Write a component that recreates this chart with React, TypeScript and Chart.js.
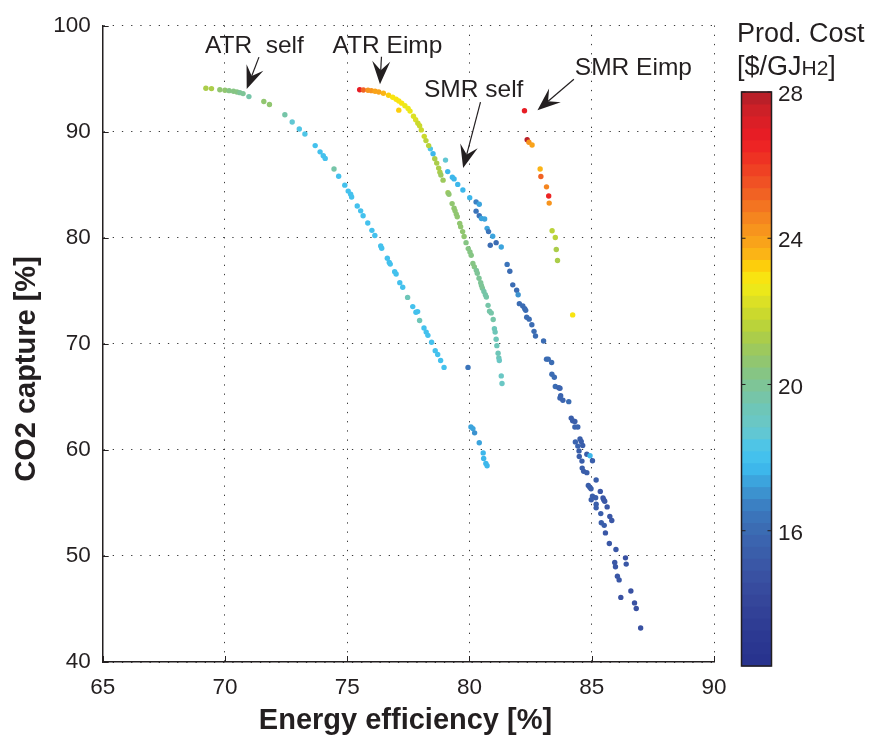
import React, { useEffect, useRef } from 'react';
import { Chart, registerables } from 'chart.js';

Chart.register(...registerables);

const FONT = "'Liberation Sans', Arial, Helvetica, sans-serif";
const TEXT = '#231f20';

// ---------------- data ----------------
const atrSelfX = [69.22, 69.45, 69.79, 70.0, 70.17, 70.35, 70.49, 70.61, 70.74, 70.98, 71.59, 71.82, 72.45, 72.75, 73.04, 73.27, 73.69, 73.89, 74.02, 74.10, 74.46, 74.65, 74.90, 75.04, 75.14, 75.18, 75.41, 75.55, 75.65, 75.84, 76.01, 76.13, 76.37, 76.41, 76.64, 76.72, 76.76, 76.94, 77.0, 77.15, 77.27, 77.47, 77.68, 77.81, 77.88, 77.96, 78.14, 78.23, 78.30, 78.45, 78.60, 78.70, 78.82, 78.96];
const atrSelfY = [94.08, 94.05, 93.95, 93.89, 93.86, 93.80, 93.73, 93.67, 93.58, 93.30, 92.84, 92.56, 91.59, 90.91, 90.25, 89.77, 88.68, 88.09, 87.72, 87.47, 86.47, 85.79, 84.95, 84.39, 84.09, 83.83, 82.99, 82.53, 82.06, 81.38, 80.69, 80.20, 79.21, 79.0, 78.06, 77.66, 77.51, 76.79, 76.57, 75.76, 75.33, 74.37, 73.50, 72.97, 73.03, 72.19, 71.48, 71.10, 70.79, 70.14, 69.35, 68.98, 68.42, 67.77];
const atrSelfCost = [21.2, 21.2, 20.6, 20.5, 20.4, 20.3, 20.2, 20.1, 20.0, 19.7, 20.8, 20.6, 19.6, 18.6, 18.4, 18.2, 18.1, 18.1, 18.1, 18.1, 19.5, 18.1, 18.1, 18.1, 18.1, 18.1, 18.1, 18.1, 18.1, 18.1, 18.1, 18.1, 18.1, 18.1, 18.1, 18.1, 18.1, 18.1, 18.1, 18.1, 18.1, 19.4, 18.1, 18.1, 18.1, 19.4, 18.1, 18.1, 18.1, 18.1, 18.1, 18.1, 18.1, 18.1];

const atrEimpX = [75.51, 75.66, 75.85, 75.99, 76.14, 76.29, 76.48, 76.69, 76.86, 77.0, 77.11, 77.11, 77.23, 77.36, 77.49, 77.57, 77.71, 77.80, 77.89, 77.96, 78.03, 78.15, 78.22, 78.33, 78.58, 78.66, 78.74, 78.79, 78.83, 78.92, 79.12, 79.16, 79.29, 79.37, 79.41, 79.46, 79.50, 79.60, 79.64, 79.72, 79.78, 79.86, 79.95, 80.02, 80.07, 80.14, 80.20, 80.28, 80.32, 80.39, 80.46, 80.49, 80.53, 80.59, 80.65, 80.69, 80.76, 80.82, 80.89, 80.97, 81.02, 81.05, 81.09, 81.12, 81.17, 81.20, 81.22, 81.30, 81.33];
const atrEimpY = [93.95, 93.92, 93.89, 93.86, 93.80, 93.73, 93.61, 93.42, 93.24, 93.05, 92.02, 92.89, 92.68, 92.43, 92.18, 91.93, 91.44, 91.12, 90.79, 90.56, 90.16, 89.55, 89.15, 88.68, 87.44, 87.03, 86.56, 86.16, 85.91, 85.42, 84.23, 84.09, 83.21, 82.78, 82.53, 82.22, 81.97, 81.35, 81.04, 80.57, 80.11, 79.53, 78.97, 78.65, 78.34, 77.57, 77.25, 76.92, 76.64, 76.17, 75.76, 75.48, 75.24, 74.92, 74.62, 74.40, 73.62, 73.06, 72.91, 72.29, 71.42, 71.10, 70.42, 69.82, 69.11, 68.67, 68.42, 66.97, 66.25];
const atrEimpCost = [26.8, 25.3, 24.3, 24.2, 23.9, 23.8, 23.5, 23.2, 23.0, 22.9, 23.4, 22.8, 22.8, 22.7, 22.6, 22.5, 22.3, 22.2, 22.1, 22.0, 21.9, 21.8, 21.7, 21.6, 21.4, 21.3, 21.3, 21.2, 21.1, 21.0, 20.9, 20.8, 20.8, 20.7, 20.7, 20.6, 20.6, 20.6, 20.5, 20.5, 20.5, 20.4, 20.4, 20.3, 20.3, 20.2, 20.2, 20.1, 20.1, 20.0, 20.0, 19.9, 19.9, 19.8, 19.8, 19.7, 19.6, 19.6, 19.5, 19.5, 19.3, 19.3, 19.3, 19.2, 19.2, 19.2, 19.1, 19.0, 19.0];

const smrEimpX = [82.25, 82.36, 82.43, 82.56, 82.89, 82.92, 83.15, 83.24, 83.26, 83.38, 83.51, 83.55, 83.60, 84.22];
const smrEimpY = [91.96, 89.24, 88.99, 88.74, 86.47, 85.76, 84.79, 83.93, 83.26, 80.65, 80.02, 78.88, 77.85, 72.72];
const smrEimpCost = [26.8, 27.9, 24.3, 23.9, 23.6, 25.1, 24.5, 26.6, 24.1, 21.5, 21.5, 21.3, 21.2, 22.9];

const smrSelfX = [78.40, 78.51, 79.02, 79.11, 79.30, 79.37, 79.52, 79.73, 80.01, 80.27, 80.40, 80.27, 80.40, 80.49, 80.62, 80.72, 80.78, 80.95, 81.09, 80.85, 81.30, 81.54, 81.65, 81.77, 81.93, 81.99, 82.04, 82.18, 82.26, 82.30, 82.34, 82.44, 82.55, 82.64, 82.70, 83.03, 79.94, 83.15, 83.22, 83.36, 83.37, 83.47, 83.51, 83.65, 83.70, 83.73, 83.70, 83.82, 84.06, 84.16, 84.22, 84.31, 84.31, 84.43, 84.52, 84.57, 84.63, 84.33, 84.43, 84.48, 84.80, 84.93, 85.03, 84.49, 84.60, 84.61, 84.67, 84.80, 84.86, 84.92, 84.97, 85.18, 85.35, 85.03, 84.98, 85.16, 85.46, 85.49, 85.53, 85.18, 85.18, 85.63, 85.37, 85.74, 85.82, 85.39, 85.51, 85.56, 85.72, 85.99, 86.38, 86.41, 85.94, 85.97, 86.05, 86.12, 86.60, 86.19, 86.75, 86.82, 87.0];
const smrSelfY = [88.37, 87.91, 87.31, 86.23, 85.70, 85.54, 85.02, 84.49, 83.77, 83.37, 83.15, 82.50, 82.06, 81.81, 81.76, 80.88, 80.57, 80.13, 79.53, 79.28, 79.12, 77.48, 76.83, 75.55, 75.05, 74.62, 73.78, 73.56, 73.31, 73.15, 72.50, 72.32, 71.79, 71.17, 70.73, 70.26, 67.77, 68.55, 68.55, 68.23, 67.12, 66.84, 65.97, 65.85, 65.81, 65.10, 64.88, 64.67, 64.54, 62.99, 62.74, 62.68, 62.15, 62.15, 61.03, 60.78, 60.41, 60.75, 60.35, 59.90, 59.59, 59.44, 58.97, 59.37, 58.94, 58.28, 57.97, 57.85, 56.64, 56.48, 56.33, 57.16, 56.08, 55.64, 55.30, 55.49, 55.46, 55.30, 55.15, 54.87, 54.53, 54.62, 53.99, 53.72, 53.34, 53.13, 52.88, 52.17, 51.17, 50.61, 49.82, 49.23, 49.39, 48.98, 48.09, 47.74, 46.69, 46.09, 45.57, 45.04, 43.20];
const smrSelfCost = [18.4, 17.8, 18.6, 17.8, 17.8, 17.8, 17.7, 17.7, 17.7, 16.6, 17.4, 16.4, 16.5, 17.3, 17.3, 17.4, 16.4, 17.5, 16.2, 16.2, 17.5, 16.3, 16.2, 16.2, 16.2, 17.2, 16.1, 16.1, 16.1, 16.1, 16.0, 16.0, 16.0, 16.0, 16.0, 16.0, 16.4, 16.0, 16.0, 15.9, 15.9, 15.9, 15.9, 15.8, 15.8, 15.8, 15.8, 15.8, 16.0, 15.5, 15.5, 15.5, 15.8, 15.8, 15.4, 15.4, 15.3, 15.7, 15.7, 15.4, 15.3, 17.6, 15.5, 15.5, 15.5, 15.5, 15.5, 15.5, 15.4, 15.4, 15.4, 15.5, 15.2, 15.4, 15.5, 15.4, 15.2, 15.2, 15.2, 15.4, 15.4, 15.2, 15.3, 15.1, 15.1, 15.3, 15.3, 15.2, 15.1, 15.0, 14.7, 15.0, 15.0, 15.0, 15.0, 15.0, 14.8, 14.9, 14.8, 14.8, 14.7];

const smrSelfLowX = [80.06, 80.14, 80.21, 80.40, 80.56, 80.58, 80.67, 80.72];
const smrSelfLowY = [62.16, 62.0, 61.60, 60.67, 59.71, 59.18, 58.71, 58.50];
const smrSelfLowCost = [17.4, 17.4, 17.2, 17.5, 17.7, 17.7, 17.7, 17.7];

const xTicks = [65, 70, 75, 80, 85, 90];
const yTicks = [40, 50, 60, 70, 80, 90, 100];
const colorbarTicks = [16, 20, 24, 28];
const costMin = 12.3;
const costMax = 28;

// colour map
const cmapStops = [12.3, 13.2, 14.2, 15.0, 16.0, 16.6, 17.2, 17.8, 18.3, 18.8, 19.3, 19.8, 20.3, 20.8, 21.3, 21.8, 22.3, 22.8, 23.2, 23.6, 24.1, 24.7, 25.3, 26.0, 26.7, 27.4, 28.0];
const cmapHex = ['#27328d', '#2d3a92', '#36479b', '#3a55a5', '#3b6ab2', '#3b7abf', '#3c9ad5', '#3dbdf0', '#4cc5e9', '#68c7cc', '#6dc6b9', '#79c5a2', '#86c585', '#96c766', '#abcd4a', '#c3d631', '#dde124', '#f6ec14', '#fdd20a', '#fbb316', '#f89a1c', '#f47f20', '#f15d24', '#ef3b23', '#ed1c24', '#d32027', '#b01f29'];

const annotations = [
  { text: 'ATR  self', tx: 69.18, ty: 97.42, x0: 71.39, y0: 97.02, x1: 70.89, y1: 94.01 },
  { text: 'ATR Eimp', tx: 74.40, ty: 97.42, x0: 76.40, y0: 97.05, x1: 76.34, y1: 94.47 },
  { text: 'SMR self', tx: 78.14, ty: 93.23, x0: 80.45, y0: 92.77, x1: 79.74, y1: 86.56 },
  { text: 'SMR Eimp', tx: 84.31, ty: 95.37, x0: 84.27, y0: 94.94, x1: 82.78, y1: 92.0 },
];

// ---------------- layout ----------------
const W = 876;
const H = 740;
const PLOT = { left: 102.7, right: 714, top: 17.3, bottom: 662 };
const CBAR = { left: 741.5, right: 771.5, top: 92, bottom: 666 };
const NBANDS = 48;

function hexToRgb(h: string) {
  const n = parseInt(h.slice(1), 16);
  return [(n >> 16) & 255, (n >> 8) & 255, n & 255];
}

function cmap(v: number) {
  if (v <= cmapStops[0]) return cmapHex[0];
  for (let i = 1; i < cmapStops.length; i++) {
    if (v <= cmapStops[i]) {
      const t = (v - cmapStops[i - 1]) / (cmapStops[i] - cmapStops[i - 1]);
      const a = hexToRgb(cmapHex[i - 1]);
      const b = hexToRgb(cmapHex[i]);
      const c = a.map((av, k) => Math.round(av + (b[k] - av) * t));
      return `rgb(${c[0]},${c[1]},${c[2]})`;
    }
  }
  return cmapHex[cmapHex.length - 1];
}

function bandColor(v: number) {
  const t = Math.max(0, Math.min(0.99999, (v - costMin) / (costMax - costMin)));
  const k = Math.floor(t * NBANDS);
  return cmap(costMin + ((k + 0.5) * (costMax - costMin)) / NBANDS);
}

function makeDataset(label: string, xs: number[], ys: number[], cs: number[]) {
  return {
    label,
    data: xs.map((x, i) => ({ x, y: ys[i] })),
    pointBackgroundColor: cs.map(bandColor),
    pointBorderWidth: 0,
    pointRadius: 2.7,
    pointHoverRadius: 2.7,
    showLine: false,
  };
}

function drawArrow(ctx: CanvasRenderingContext2D, x0: number, y0: number, x1: number, y1: number) {
  const dx = x1 - x0;
  const dy = y1 - y0;
  const len = Math.hypot(dx, dy);
  const ux = dx / len;
  const uy = dy / len;
  const px = -uy;
  const py = ux;
  const L = 23;
  const hw = 9;
  const notch = 14;
  ctx.lineWidth = 1.2;
  ctx.beginPath();
  ctx.moveTo(x0, y0);
  ctx.lineTo(x1 - ux * notch, y1 - uy * notch);
  ctx.stroke();
  ctx.beginPath();
  ctx.moveTo(x1, y1);
  ctx.lineTo(x1 - ux * L + px * hw, y1 - uy * L + py * hw);
  ctx.lineTo(x1 - ux * notch, y1 - uy * notch);
  ctx.lineTo(x1 - ux * L - px * hw, y1 - uy * L - py * hw);
  ctx.closePath();
  ctx.fill();
}

const overlayPlugin = {
  id: 'overlay',
  afterDraw(chart: any) {
    const ctx: CanvasRenderingContext2D = chart.ctx;
    const xs = chart.scales.x;
    const ys = chart.scales.y;
    const area = chart.chartArea;
    ctx.save();
    ctx.strokeStyle = TEXT;
    ctx.fillStyle = TEXT;

    // inward major ticks
    ctx.lineWidth = 1;
    xTicks.forEach((t) => {
      const p = Math.round(xs.getPixelForValue(t)) + 0.5;
      ctx.beginPath();
      ctx.moveTo(p, area.bottom);
      ctx.lineTo(p, area.bottom - 6);
      ctx.stroke();
    });
    yTicks.forEach((t) => {
      const p = Math.round(ys.getPixelForValue(t)) + 0.5;
      ctx.beginPath();
      ctx.moveTo(area.left, p);
      ctx.lineTo(area.left + 6, p);
      ctx.stroke();
    });

    // axis titles
    ctx.font = `bold 29px ${FONT}`;
    ctx.textAlign = 'center';
    ctx.textBaseline = 'alphabetic';
    ctx.fillText('Energy efficiency [%]', 405.5, 729);
    ctx.save();
    ctx.translate(35, 369);
    ctx.rotate(-Math.PI / 2);
    ctx.fillText('CO2 capture [%]', 0, 0);
    ctx.restore();

    // annotations
    ctx.font = `24.5px ${FONT}`;
    ctx.textAlign = 'left';
    annotations.forEach((a) => {
      ctx.fillText(a.text, xs.getPixelForValue(a.tx), ys.getPixelForValue(a.ty));
      drawArrow(
        ctx,
        xs.getPixelForValue(a.x0),
        ys.getPixelForValue(a.y0),
        xs.getPixelForValue(a.x1),
        ys.getPixelForValue(a.y1)
      );
    });

    // colour bar
    const cbH = CBAR.bottom - CBAR.top;
    const vToY = (v: number) => CBAR.bottom - ((v - costMin) / (costMax - costMin)) * cbH;
    for (let k = 0; k < NBANDS; k++) {
      const v0 = costMin + (k * (costMax - costMin)) / NBANDS;
      const v1 = costMin + ((k + 1) * (costMax - costMin)) / NBANDS;
      ctx.fillStyle = cmap((v0 + v1) / 2);
      const yTop = vToY(v1);
      const yBot = vToY(v0);
      ctx.fillRect(CBAR.left, yTop - 0.5, CBAR.right - CBAR.left, yBot - yTop + 1);
    }
    ctx.strokeStyle = TEXT;
    ctx.lineWidth = 1.5;
    ctx.strokeRect(CBAR.left, CBAR.top, CBAR.right - CBAR.left, cbH);
    ctx.lineWidth = 1;
    ctx.fillStyle = TEXT;
    ctx.font = `22.5px ${FONT}`;
    ctx.textAlign = 'left';
    ctx.textBaseline = 'middle';
    colorbarTicks.forEach((t) => {
      const y = vToY(t);
      ctx.beginPath();
      ctx.moveTo(CBAR.left, y);
      ctx.lineTo(CBAR.left + 4, y);
      ctx.moveTo(CBAR.right, y);
      ctx.lineTo(CBAR.right - 4, y);
      ctx.stroke();
      ctx.fillText(String(t), 778, y + 3);
    });

    // colour bar title
    ctx.textBaseline = 'alphabetic';
    ctx.font = `27px ${FONT}`;
    ctx.fillText('Prod. Cost', 737, 41.5);
    let x = 737;
    ctx.fillText('[$/GJ', x, 75);
    x += ctx.measureText('[$/GJ').width;
    ctx.font = `21px ${FONT}`;
    ctx.fillText('H2', x, 75);
    x += ctx.measureText('H2').width;
    ctx.font = `27px ${FONT}`;
    ctx.fillText(']', x, 75);

    ctx.restore();
  },
};

export default function App() {
  const ref = useRef<HTMLCanvasElement | null>(null);

  useEffect(() => {
    if (!ref.current) return;
    const tickFont = { family: FONT, size: 22.5 };
    const chart = new Chart(ref.current, {
      type: 'scatter',
      data: {
        datasets: [
          makeDataset('ATR self', atrSelfX, atrSelfY, atrSelfCost),
          makeDataset('ATR Eimp', atrEimpX, atrEimpY, atrEimpCost),
          makeDataset('SMR self', smrSelfX, smrSelfY, smrSelfCost),
          makeDataset('SMR self low', smrSelfLowX, smrSelfLowY, smrSelfLowCost),
          makeDataset('SMR Eimp', smrEimpX, smrEimpY, smrEimpCost),
        ] as any,
      },
      options: {
        responsive: false,
        animation: false,
        devicePixelRatio: 1,
        events: [],
        layout: { padding: { left: 0, right: W - PLOT.right, top: PLOT.top, bottom: 0 } },
        plugins: { legend: { display: false }, tooltip: { enabled: false } },
        scales: {
          x: {
            type: 'linear',
            min: 65,
            max: 90,
            afterBuildTicks: (s: any) => {
              s.ticks = xTicks.map((v) => ({ value: v }));
            },
            afterFit: (s: any) => {
              s.height = H - PLOT.bottom;
            },
            ticks: { font: tickFont, color: TEXT, padding: 12, maxRotation: 0, autoSkip: false },
            grid: { color: '#3a3a3a', lineWidth: 1, drawTicks: false },
            border: { color: TEXT, width: 1.5, dash: [1.3, 7.9] },
            title: { display: false },
          },
          y: {
            type: 'linear',
            min: 40,
            max: 100,
            afterBuildTicks: (s: any) => {
              s.ticks = yTicks.map((v) => ({ value: v }));
            },
            afterFit: (s: any) => {
              s.width = PLOT.left;
            },
            ticks: { font: tickFont, color: TEXT, padding: 12, autoSkip: false },
            grid: { color: '#3a3a3a', lineWidth: 1, drawTicks: false },
            border: { color: TEXT, width: 1.5, dash: [1.3, 7.9] },
            title: { display: false },
          },
        },
      } as any,
      plugins: [overlayPlugin],
    });
    return () => chart.destroy();
  }, []);

  return (
    <div style={{ position: 'absolute', left: 0, top: 0, width: W, height: H, background: '#fff' }}>
      <canvas ref={ref} width={W} height={H} style={{ display: 'block', width: W, height: H }} />
    </div>
  );
}
